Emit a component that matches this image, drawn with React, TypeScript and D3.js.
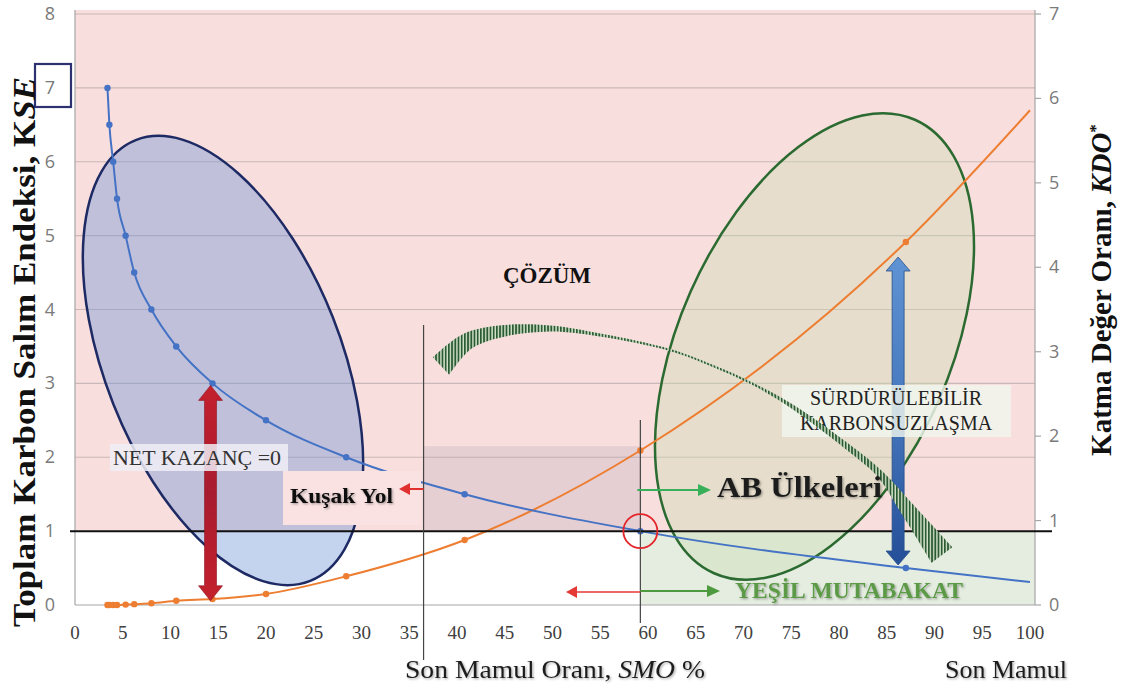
import React from 'react';
import * as d3 from 'd3';

// ---- data ----
const SMO = [3.4, 3.6, 4.0, 4.4, 5.3, 6.2, 8.0, 10.6, 14.4, 20.0, 28.4, 40.8, 59.2, 87.0, 100];
const KSE = [7, 6.5, 6, 5.5, 5, 4.5, 4, 3.5, 3, 2.5, 2, 1.5, 1, 0.5, 0.31];
const KDO = [0, 0, 0, 0, 0.005, 0.01, 0.02, 0.05, 0.07, 0.13, 0.34, 0.77, 1.83, 4.3, 5.86];
const MARKER_COUNT = 14;
const X_TICKS = d3.range(0, 101, 5);
const LEFT_TICKS = d3.range(0, 9);
const RIGHT_TICKS = d3.range(0, 8);

const SERIF = "'Liberation Serif', 'Times New Roman', serif";
const SANS = "'Open Sans', 'DejaVu Sans', sans-serif";

function dblArrow(cx: number, y1: number, y2: number, sw: number, hw: number, hl: number) {
  const p = [
    [cx, y1], [cx + hw, y1 + hl], [cx + sw, y1 + hl], [cx + sw, y2 - hl], [cx + hw, y2 - hl],
    [cx, y2], [cx - hw, y2 - hl], [cx - sw, y2 - hl], [cx - sw, y1 + hl], [cx - hw, y1 + hl],
  ];
  return p.map((q) => q.join(',')).join(' ');
}

function HArrow({ x1, x2, y, color, w = 2, head = 12 }: any) {
  const dir = x2 > x1 ? 1 : -1;
  const hx = x2 - dir * head;
  return (
    <g>
      <line x1={x1} y1={y} x2={hx} y2={y} stroke={color} strokeWidth={w} />
      <polygon points={`${x2},${y} ${hx},${y - 6} ${hx},${y + 6}`} fill={color} />
    </g>
  );
}

// swoosh centreline (annotation shape): x, y, width
const SWOOSH: number[][] = [
  [441, 366, 24], [467, 341.5, 17], [500, 331.5, 12], [550, 328.5, 6], [600, 335, 3],
  [670, 350, 2], [713, 366, 2], [753, 384, 2.2], [793, 407, 4], [853, 451, 6],
  [880, 474, 7], [905, 506, 14], [942, 555, 26],
];

function swooshPath() {
  const left: [number, number][] = [];
  const right: [number, number][] = [];
  SWOOSH.forEach((p, i) => {
    const a = SWOOSH[Math.max(0, i - 1)];
    const b = SWOOSH[Math.min(SWOOSH.length - 1, i + 1)];
    let tx = b[0] - a[0], ty = b[1] - a[1];
    const L = Math.hypot(tx, ty);
    tx /= L; ty /= L;
    const nx = -ty, ny = tx;
    left.push([p[0] + nx * p[2] / 2, p[1] + ny * p[2] / 2]);
    right.push([p[0] - nx * p[2] / 2, p[1] - ny * p[2] / 2]);
  });
  const line = d3.line().curve(d3.curveCatmullRom.alpha(0.5));
  const a = line(left) as string;
  const b = (line(right.reverse()) as string).replace(/^M/, 'L');
  return a + b + 'Z';
}

export default function App() {
  const x = d3.scaleLinear().domain([0, 100]).range([75, 1030]);
  const yL = d3.scaleLinear().domain([0, 8]).range([605, 14]);
  const yR = d3.scaleLinear().domain([0, 7]).range([605, 14]);

  const kseLine = d3.line<number>().x((_, i) => x(SMO[i])).y((d) => yL(d)).curve(d3.curveMonotoneX)(KSE) as string;
  const kdoLine = d3.line<number>().x((_, i) => x(SMO[i])).y((d) => yR(d)).curve(d3.curveMonotoneX)(KDO) as string;

  const left = 75, right = 1035, top = 10, bottom = 605;
  const y1 = yL(1);
  const xCut = x(59.2);
  const xLine = x(36.5);

  return (
    <svg width={1122} height={685} style={{ position: 'absolute', left: 0, top: 0, background: '#ffffff' }}
      xmlns="http://www.w3.org/2000/svg">
      <defs>
        <pattern id="stripes" patternUnits="userSpaceOnUse" width={3.2} height={10}>
          <rect width={3.2} height={10} fill="#d3e4cc" />
          <rect width={1.8} height={10} fill="#2c5a33" />
        </pattern>
        <linearGradient id="blueGrad" x1="0" y1="0" x2="0" y2="1">
          <stop offset="0%" stopColor="#5f93d3" />
          <stop offset="50%" stopColor="#4677bd" />
          <stop offset="100%" stopColor="#244f98" />
        </linearGradient>
        <linearGradient id="redGrad" x1="0" y1="0" x2="0" y2="1">
          <stop offset="0%" stopColor="#c4202c" />
          <stop offset="50%" stopColor="#a81b2f" />
          <stop offset="100%" stopColor="#c4202c" />
        </linearGradient>
        <filter id="shadow" x="-10%" y="-30%" width="120%" height="160%">
          <feDropShadow dx="1.2" dy="1.2" stdDeviation="1" floodColor="#000" floodOpacity="0.35" />
        </filter>
      </defs>

      {/* plot backgrounds */}
      <rect x={left} y={top} width={right - left} height={y1 - top} fill="#f9dede" />
      <rect x={left} y={y1} width={xCut - left} height={bottom - y1} fill="#ffffff" />
      <rect x={xCut} y={y1} width={right - xCut} height={bottom - y1} fill="#e5ede1" />

      {/* gridlines */}
      {LEFT_TICKS.filter((t) => t >= 2).map((t) => (
        <line key={t} x1={left} x2={right} y1={yL(t)} y2={yL(t)} stroke="#cbb8b8" strokeWidth={1.2} />
      ))}

      {/* gray zone */}
      <rect x={xLine} y={yL(2.15)} width={xCut - xLine} height={y1 - yL(2.15)} fill="#8e8aa0" opacity={0.18} />

      {/* axes frame */}
      <line x1={left} x2={left} y1={top} y2={bottom} stroke="#a6a6a6" strokeWidth={1.2} />
      <line x1={left} x2={right} y1={bottom} y2={bottom} stroke="#a6a6a6" strokeWidth={1.2} />
      <line x1={right} x2={right} y1={top} y2={bottom} stroke="#a6a6a6" strokeWidth={1.2} />
      {RIGHT_TICKS.map((t) => (
        <line key={t} x1={right} x2={right + 6} y1={yR(t)} y2={yR(t)} stroke="#a6a6a6" strokeWidth={1.2} />
      ))}

      {/* ellipses */}
      <ellipse cx={223} cy={360.5} rx={237} ry={118} transform="rotate(68.4 223 360.5)"
        fill="rgba(115,150,215,0.42)" stroke="#1d2a63" strokeWidth={2.5} />
      <ellipse cx={814.5} cy={346.5} rx={248} ry={135.5} transform="rotate(-66.1 814.5 346.5)"
        fill="rgba(200,222,175,0.38)" stroke="#2b6a30" strokeWidth={2.5} />

      {/* curves */}
      <path d={kdoLine} fill="none" stroke="#ed7d31" strokeWidth={2} />
      {KDO.slice(0, MARKER_COUNT).map((v, i) => (
        <circle key={'o' + i} cx={x(SMO[i])} cy={yR(v)} r={3.2} fill="#ed7d31" />
      ))}
      <path d={kseLine} fill="none" stroke="#4472c4" strokeWidth={2} />
      {KSE.slice(0, MARKER_COUNT).map((v, i) => (
        <circle key={'b' + i} cx={x(SMO[i])} cy={yL(v)} r={3.2} fill="#4472c4" />
      ))}

      {/* KSE = 1 line */}
      <line x1={70} x2={1052} y1={y1} y2={y1} stroke="#111" strokeWidth={2} />

      {/* vertical markers */}
      <line x1={xLine} x2={xLine} y1={325} y2={660} stroke="#444" strokeWidth={1.2} />
      <line x1={xCut} x2={xCut} y1={420} y2={623} stroke="#444" strokeWidth={1.2} />
      <circle cx={xCut} cy={y1} r={17} fill="none" stroke="#e3262b" strokeWidth={1.8} />

      {/* red double arrow */}
      <polygon points={dblArrow(x(14.4) - 2, yL(3) + 2, yR(0.05), 6, 12, 15)} fill="url(#redGrad)" stroke="#8c1421" strokeWidth={0.6} />

      {/* NET KAZANC box */}
      <rect x={110} y={444} width={178} height={27} fill="rgba(240,238,246,0.85)" />
      <text x={113} y={465} fontFamily={SERIF} fontSize={20} fill="#333" textLength={168} lengthAdjust="spacingAndGlyphs">NET KAZANÇ =0</text>

      {/* Kusak Yol */}
      <rect x={283} y={471} width={138} height={54} fill="#fae2e2" />
      <text x={290} y={503} fontFamily={SERIF} fontSize={22} fontWeight="bold" fill="#111" textLength={103}
        lengthAdjust="spacingAndGlyphs" filter="url(#shadow)">Kuşak Yol</text>
      <HArrow x1={xLine} x2={399} y={489} color="#e03030" w={2} head={11} />

      {/* COZUM */}
      <text x={547} y={283} textAnchor="middle" fontFamily={SERIF} fontSize={23} fontWeight="bold" fill="#111">ÇÖZÜM</text>

      {/* blue double arrow */}
      <polygon points={dblArrow(x(86.4) - 2, 257, 565, 6, 12, 14)} fill="url(#blueGrad)" stroke="#2a4f8a" strokeWidth={0.8} />

      {/* Surdurulebilir box */}
      <rect x={782} y={385} width={229} height={52} fill="rgba(240,246,238,0.82)" />
      <text x={896} y={405} textAnchor="middle" fontFamily={SERIF} fontSize={20} fill="#222">SÜRDÜRÜLEBİLİR</text>
      <text x={896} y={430} textAnchor="middle" fontFamily={SERIF} fontSize={20} fill="#222">KARBONSUZLAŞMA</text>

      {/* striped swoosh */}
      <path d={swooshPath()} fill="url(#stripes)" />

      {/* AB Ulkeleri */}
      <HArrow x1={xCut - 3} x2={711} y={490} color="#38b05a" w={2.2} head={13} />
      <text x={717} y={497} fontFamily={SERIF} fontSize={30} fontWeight="bold" fill="#1e1e1e" textLength={165}
        lengthAdjust="spacingAndGlyphs" filter="url(#shadow)">AB Ülkeleri</text>

      {/* Yesil Mutabakat */}
      <HArrow x1={xCut} x2={566} y={592} color="#e53935" w={1.6} head={11} />
      <HArrow x1={xCut} x2={720} y={591} color="#4e9a3e" w={2.2} head={13} />
      <text x={735} y={598} fontFamily={SERIF} fontSize={23} fontWeight="bold" fill="#5b9a46" textLength={228}
        lengthAdjust="spacingAndGlyphs" filter="url(#shadow)">YEŞİL MUTABAKAT</text>

      {/* tick labels */}
      {LEFT_TICKS.map((t) => (
        <text key={'l' + t} x={50} y={yL(t) + 6} textAnchor="middle" fontFamily={SANS} fontSize={18} fill="#7a7a7a">{t}</text>
      ))}
      <rect x={35} y={64} width={36} height={43} fill="none" stroke="#2e3170" strokeWidth={2.2} />
      {RIGHT_TICKS.map((t) => (
        <text key={'r' + t} x={1049} y={yR(t) + 6} fontFamily={SANS} fontSize={18} fill="#7a7a7a">{t}</text>
      ))}
      {X_TICKS.map((t) => (
        <text key={'x' + t} x={x(t)} y={639} textAnchor="middle" fontFamily={SERIF} fontSize={19} fill="#404040">{t}</text>
      ))}

      {/* axis titles */}
      <text transform="translate(35,352) rotate(-90)" textAnchor="middle" fontFamily={SERIF} fontSize={31}
        fontWeight="bold" fill="#111" textLength={550} lengthAdjust="spacingAndGlyphs">
        Toplam Karbon Salım Endeksi, K<tspan fontStyle="italic">SE</tspan>
      </text>
      <text transform="translate(1111,290) rotate(-90)" textAnchor="middle" fontFamily={SERIF} fontSize={29}
        fontWeight="bold" fill="#111">
        Katma Değer Oranı, <tspan fontStyle="italic">KDO</tspan><tspan dy={-10} fontSize={17}>*</tspan>
      </text>
      <text x={405} y={678} fontFamily={SERIF} fontSize={26} fill="#1e1e1e" textLength={300} lengthAdjust="spacingAndGlyphs"
        filter="url(#shadow)">
        Son Mamul Oranı, <tspan fontStyle="italic">SMO</tspan> %
      </text>
      <text x={945} y={678} fontFamily={SERIF} fontSize={26} fill="#1e1e1e" filter="url(#shadow)">Son Mamul</text>
    </svg>
  );
}
